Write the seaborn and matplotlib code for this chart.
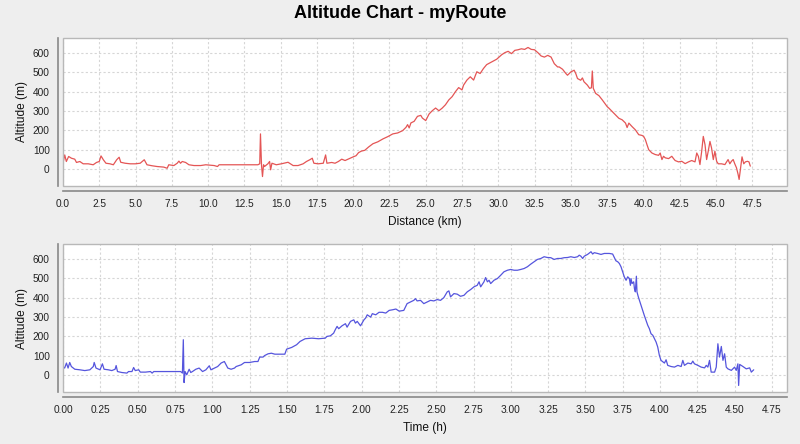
import numpy as np
import pandas as pd
import matplotlib
matplotlib.use("Agg")
import matplotlib.pyplot as plt
import seaborn as sns
from matplotlib.patches import Rectangle
from matplotlib.ticker import FormatStrFormatter

# ---------------- data ----------------
dist_km = [
    0.00, 0.12, 0.23, 0.39, 0.58, 0.81, 0.93, 1.16, 1.39, 1.74, 2.08, 2.31, 2.50, 2.62, 2.78, 2.96,
    3.24, 3.47, 3.70, 3.87, 3.98, 4.28, 4.63, 4.98, 5.32, 5.60, 5.79, 6.13, 6.48, 6.94, 7.18, 7.29,
    7.64, 7.87, 7.99, 8.10, 8.22, 8.45, 8.68, 9.03, 9.49, 9.84, 10.42, 10.65, 10.76, 11.81, 13.43, 13.56,
    13.61, 13.68, 13.75, 13.82, 13.89, 14.12, 14.24, 14.31, 14.40, 14.70, 15.05, 15.51, 15.86, 16.20,
    16.55, 16.78, 17.01, 17.18, 17.29, 17.59, 17.94, 18.10, 18.19, 18.52, 18.75, 18.98, 19.21, 19.44,
    19.79, 20.00, 20.20, 20.37, 20.57, 20.80, 21.06, 21.36, 21.70, 22.05, 22.39, 22.73, 23.07, 23.41,
    23.64, 23.75, 23.86, 23.98, 24.20, 24.43, 24.66, 24.77, 25.00, 25.23, 25.45, 25.68, 25.91, 26.14,
    26.36, 26.59, 26.82, 27.05, 27.27, 27.50, 27.61, 27.84, 28.07, 28.30, 28.52, 28.75, 28.98, 29.20,
    29.55, 29.89, 30.23, 30.45, 30.68, 30.91, 31.14, 31.36, 31.59, 31.82, 32.05, 32.27, 32.50, 32.73,
    32.95, 33.18, 33.41, 33.64, 33.86, 34.09, 34.20, 34.43, 34.66, 34.77, 35.00, 35.23, 35.34, 35.46,
    35.68, 35.80, 35.91, 36.14, 36.30, 36.42, 36.48, 36.55, 36.71, 36.94, 37.17, 37.51, 37.63, 37.85,
    38.08, 38.31, 38.54, 38.77, 38.88, 39.00, 39.22, 39.45, 39.68, 39.91, 40.02, 40.14, 40.25, 40.37,
    40.59, 40.82, 41.05, 41.16, 41.28, 41.39, 41.51, 41.74, 41.96, 42.08, 42.19, 42.42, 42.65, 42.88,
    43.11, 43.33, 43.56, 43.68, 43.79, 43.90, 44.02, 44.13, 44.25, 44.36, 44.47, 44.59, 44.70, 44.82,
    44.93, 45.05, 45.16, 45.39, 45.62, 45.84, 45.96, 46.07, 46.19, 46.30, 46.42, 46.53, 46.60, 46.69,
    46.80, 46.92, 47.03, 47.17, 47.28, 47.37,
]
alt_by_dist = [
    29, 72, 38, 64, 55, 50, 33, 38, 26, 26, 21, 33, 38, 67, 47, 29,
    26, 21, 47, 60, 34, 29, 26, 26, 29, 47, 21, 16, 12, 9, 3, 21,
    17, 29, 40, 29, 38, 33, 21, 17, 17, 21, 17, 12, 21, 21, 21, 26,
    181, 21, -40, 21, 12, 26, 38, -5, 29, 21, 26, 34, 17, 17,
    26, 38, 47, 55, 29, 26, 29, 72, 29, 33, 29, 38, 50, 43,
    55, 62, 68, 84, 92, 96, 113, 130, 140, 155, 167, 181, 186, 198,
    215, 229, 212, 238, 246, 272, 277, 263, 250, 284, 301, 315, 301, 315,
    332, 357, 374, 400, 421, 409, 434, 460, 477, 460, 503, 494, 520, 540,
    554, 568, 591, 602, 609, 597, 614, 617, 622, 619, 629, 619, 617, 602,
    585, 579, 588, 579, 545, 528, 528, 516, 494, 485, 502, 511, 494, 468,
    459, 471, 451, 434, 417, 420, 507, 417, 391, 379, 357, 322, 314, 297,
    279, 262, 254, 237, 214, 237, 219, 202, 177, 173, 168, 151, 125, 99,
    82, 74, 70, 82, 48, 65, 57, 53, 65, 53, 43, 36, 39, 27,
    36, 43, 36, 82, 65, 22, 91, 168, 125, 48, 91, 142, 108, 48,
    91, 39, 26, 26, 22, 48, 26, 39, 48, 26, 5, -29, -55, -3,
    62, 26, 36, 39, 36, 14,
]

time_h = [
    0.000, 0.011, 0.023, 0.034, 0.045, 0.056, 0.079, 0.113, 0.146, 0.180, 0.203, 0.209, 0.221, 0.248,
    0.264, 0.275, 0.304, 0.327, 0.349, 0.356, 0.365, 0.394, 0.428, 0.439, 0.462, 0.473, 0.484, 0.507,
    0.518, 0.552, 0.586, 0.597, 0.608, 0.653, 0.743, 0.788, 0.800, 0.806, 0.811, 0.818, 0.829, 0.845,
    0.856, 0.867, 0.890, 0.912, 0.935, 0.957, 0.980, 0.991, 1.014, 1.036, 1.059, 1.081, 1.104, 1.126,
    1.149, 1.160, 1.194, 1.216, 1.250, 1.284, 1.306, 1.318, 1.340, 1.351, 1.374, 1.396, 1.419, 1.453,
    1.486, 1.498, 1.532, 1.565, 1.588, 1.622, 1.667, 1.712, 1.757, 1.768, 1.791, 1.813, 1.824, 1.836,
    1.847, 1.869, 1.892, 1.903, 1.926, 1.948, 1.959, 1.971, 1.993, 2.016, 2.027, 2.038, 2.061, 2.072,
    2.095, 2.117, 2.140, 2.162, 2.185, 2.207, 2.230, 2.252, 2.283, 2.305, 2.328, 2.350, 2.361, 2.372,
    2.395, 2.417, 2.440, 2.462, 2.484, 2.507, 2.529, 2.551, 2.574, 2.585, 2.596, 2.619, 2.641, 2.663,
    2.686, 2.708, 2.731, 2.753, 2.775, 2.787, 2.798, 2.820, 2.831, 2.843, 2.854, 2.865, 2.887, 2.910,
    2.932, 2.954, 2.977, 2.999, 3.022, 3.044, 3.066, 3.089, 3.111, 3.134, 3.156, 3.178, 3.201, 3.223,
    3.245, 3.268, 3.290, 3.313, 3.335, 3.357, 3.380, 3.402, 3.425, 3.447, 3.458, 3.469, 3.481, 3.492,
    3.514, 3.537, 3.548, 3.559, 3.581, 3.604, 3.626, 3.660, 3.682, 3.704, 3.716, 3.727, 3.738, 3.749,
    3.760, 3.772, 3.783, 3.794, 3.801, 3.805, 3.812, 3.823, 3.828, 3.834, 3.841, 3.845, 3.854, 3.872,
    3.894, 3.917, 3.928, 3.939, 3.951, 3.962, 3.973, 3.984, 3.995, 4.006, 4.029, 4.040, 4.051, 4.074,
    4.096, 4.119, 4.141, 4.152, 4.163, 4.186, 4.208, 4.219, 4.230, 4.253, 4.275, 4.298, 4.309, 4.320,
    4.331, 4.342, 4.365, 4.376, 4.387, 4.398, 4.410, 4.421, 4.432, 4.443, 4.454, 4.477, 4.499, 4.510,
    4.521, 4.526, 4.533, 4.555, 4.577, 4.600, 4.611, 4.627,
]
alt_by_time = [
    43, 35, 61, 35, 64, 43, 29, 26, 22, 26, 43, 64, 35, 26,
    57, 29, 26, 22, 29, 48, 17, 12, 9, 17, 17, 38, 22, 26,
    14, 14, 17, 9, 17, 17, 17, 17, 9, 182, -40, 17, 0, 29,
    12, 17, 29, 35, 17, 26, 47, 26, 35, 43, 61, 69, 35, 29,
    35, 43, 52, 64, 64, 69, 69, 92, 92, 100, 109, 112, 107, 107,
    107, 133, 142, 156, 173, 187, 190, 187, 190, 199, 202, 216, 234, 251,
    239, 254, 265, 247, 277, 285, 268, 277, 254, 285, 294, 311, 299, 317,
    311, 324, 324, 320, 334, 337, 341, 330, 334, 369, 378, 386, 395, 383,
    386, 369, 378, 386, 383, 390, 386, 400, 430, 435, 404, 421, 418, 407,
    412, 430, 442, 456, 464, 482, 456, 482, 504, 482, 490, 473, 490, 499,
    516, 534, 542, 546, 542, 542, 546, 551, 560, 574, 586, 598, 603, 612,
    608, 607, 598, 603, 603, 607, 608, 612, 608, 612, 620, 615, 603, 615,
    624, 638, 626, 633, 629, 624, 629, 629, 626, 591, 586, 577, 560, 534,
    508, 490, 508, 499, 464, 499, 473, 482, 447, 430, 511, 430, 404, 360,
    308, 257, 239, 213, 205, 187, 170, 144, 101, 75, 61, 78, 49, 43,
    40, 49, 43, 75, 49, 61, 57, 71, 57, 49, 40, 36, 49, 40,
    75, 14, 14, 40, 161, 92, 147, 75, 109, 40, 31, 23, 40, 23,
    57, -55, 54, 43, 31, 36, 14, 26,
]

dist_ticks = np.arange(0, 48.0, 2.5)
time_ticks = np.arange(0, 4.80, 0.25)
alt_ticks = np.arange(0, 601, 100)

title = "Altitude Chart - myRoute"
xlabel_top = "Distance (km)"
xlabel_bottom = "Time (h)"
ylabel = "Altitude (m)"

# ---------------- styling ----------------
sns.set_style("white")
plt.rcParams['font.family'] = ['Liberation Sans', 'DejaVu Sans']

BG = "#eeeeee"
AXIS_COL = "#888888"
BORDER_COL = "#b8b8b8"
GRID_COL = "#d6d6d6"

fig = plt.figure(figsize=(8.0, 4.44), dpi=100, facecolor=BG)

df_d = pd.DataFrame({"x": dist_km, "y": alt_by_dist})
df_t = pd.DataFrame({"x": time_h, "y": alt_by_time})


def style_axes(ax, xticks, xfmt, xlim, xlabel):
    ax.set_facecolor("white")
    ax.set_xlim(*xlim)
    ax.set_ylim(-89, 678)
    ax.set_xticks(xticks)
    ax.set_yticks(alt_ticks)
    ax.xaxis.set_major_formatter(FormatStrFormatter(xfmt))
    ax.grid(True, color=GRID_COL, linestyle=(0, (2, 2)), linewidth=0.8)
    ax.set_axisbelow(True)
    for s in ("top", "right"):
        ax.spines[s].set_visible(False)
    for s in ("left", "bottom"):
        ax.spines[s].set_position(("outward", 3.6))
        ax.spines[s].set_color(AXIS_COL)
        ax.spines[s].set_linewidth(1.2)
    ax.add_patch(Rectangle((0, 0), 1, 1, transform=ax.transAxes, fill=False,
                           edgecolor=BORDER_COL, linewidth=1.0, clip_on=False, zorder=5))
    ax.tick_params(axis="both", direction="out", length=2, width=0.8, color=AXIS_COL,
                   labelsize=7.3, labelcolor="#222222", pad=4)
    ax.set_xlabel(xlabel, fontsize=8.6, labelpad=5, color="#111111")
    ax.set_ylabel(ylabel, fontsize=8.6, labelpad=3, color="#111111")


ax1 = fig.add_axes([63 / 800, 1 - 186 / 444, 724 / 800, 148 / 444])
sns.lineplot(data=df_d, x="x", y="y", ax=ax1, color="#e45555", linewidth=0.9,
             sort=False, estimator=None)
style_axes(ax1, dist_ticks, "%.1f", (0, 49.9), xlabel_top)

ax2 = fig.add_axes([63 / 800, 1 - 392 / 444, 724 / 800, 148 / 444])
sns.lineplot(data=df_t, x="x", y="y", ax=ax2, color="#5555dd", linewidth=0.9,
             sort=False, estimator=None)
style_axes(ax2, time_ticks, "%.2f", (0, 4.85), xlabel_bottom)

fig.text(0.5, 1 - 14 / 444, title, ha="center", va="center",
         fontsize=13, fontweight="bold", color="black")

fig.savefig("out.png", dpi=100, facecolor=BG)
